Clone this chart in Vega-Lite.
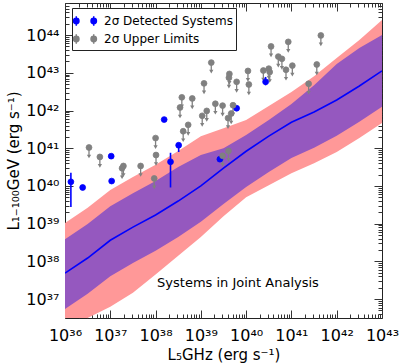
{
  "$schema": "https://vega.github.io/schema/vega-lite/v6.json",
  "width": 317,
  "height": 315,
  "autosize": "none",
  "padding": {"left": 65, "top": 3, "right": 21, "bottom": 46},
  "config": {
    "font": "DejaVu Sans",
    "view": {"stroke": "#222", "strokeWidth": 1}
  },
  "datasets": {
    "band": [
      {"x": 36, "line": 37.69, "pu_lo": 36.74, "pu_hi": 38.59, "pk_lo": 35.93, "pk_hi": 39.02},
      {"x": 36.5, "line": 38.09, "pu_lo": 37.14, "pu_hi": 38.99, "pk_lo": 36.5, "pk_hi": 39.42},
      {"x": 37, "line": 38.56, "pu_lo": 37.61, "pu_hi": 39.46, "pk_lo": 36.8, "pk_hi": 39.89},
      {"x": 37.5, "line": 38.91, "pu_lo": 37.96, "pu_hi": 39.81, "pk_lo": 37.17, "pk_hi": 40.24},
      {"x": 38, "line": 39.23, "pu_lo": 38.28, "pu_hi": 40.13, "pk_lo": 37.65, "pk_hi": 40.56},
      {"x": 38.5, "line": 39.6, "pu_lo": 38.65, "pu_hi": 40.5, "pk_lo": 38.15, "pk_hi": 40.93},
      {"x": 39, "line": 40.0, "pu_lo": 39.05, "pu_hi": 40.82, "pk_lo": 38.65, "pk_hi": 41.32},
      {"x": 39.5, "line": 40.47, "pu_lo": 39.52, "pu_hi": 41.0, "pk_lo": 39.2, "pk_hi": 41.53},
      {"x": 40, "line": 40.92, "pu_lo": 39.97, "pu_hi": 41.35, "pk_lo": 39.7, "pk_hi": 41.75},
      {"x": 40.5, "line": 41.32, "pu_lo": 40.37, "pu_hi": 41.75, "pk_lo": 40.02, "pk_hi": 42.12},
      {"x": 41, "line": 41.69, "pu_lo": 40.74, "pu_hi": 42.17, "pk_lo": 40.34, "pk_hi": 42.49},
      {"x": 41.5, "line": 41.96, "pu_lo": 41.01, "pu_hi": 42.67, "pk_lo": 40.6, "pk_hi": 42.91},
      {"x": 42, "line": 42.28, "pu_lo": 41.33, "pu_hi": 43.23, "pk_lo": 40.9, "pk_hi": 43.39},
      {"x": 42.5, "line": 42.65, "pu_lo": 41.7, "pu_hi": 43.66, "pk_lo": 41.27, "pk_hi": 43.87},
      {"x": 43, "line": 43.05, "pu_lo": 42.1, "pu_hi": 44.0, "pk_lo": 41.67, "pk_hi": 44.4}
    ],
    "pts": [
      {"x": 36.13, "y": 40.11, "ylo": 39.44, "yhi": 40.35, "type": "2σ Detected Systems"},
      {"x": 36.39, "y": 39.96, "type": "2σ Detected Systems"},
      {"x": 37.02, "y": 40.79, "type": "2σ Detected Systems"},
      {"x": 37.03, "y": 40.13, "type": "2σ Detected Systems"},
      {"x": 38.19, "y": 41.76, "type": "2σ Detected Systems"},
      {"x": 38.33, "y": 40.64, "ylo": 39.96, "yhi": 40.88, "type": "2σ Detected Systems"},
      {"x": 38.51, "y": 41.08, "ylo": 40.9, "yhi": 41.11, "type": "2σ Detected Systems"},
      {"x": 39.42, "y": 40.71, "type": "2σ Detected Systems"},
      {"x": 39.79, "y": 42.06, "type": "2σ Detected Systems"},
      {"x": 40.43, "y": 42.76, "ylo": 42.67, "yhi": 42.89, "type": "2σ Detected Systems"},
      {"x": 36.53, "y": 41.02, "type": "2σ Upper Limits"},
      {"x": 36.77, "y": 40.77, "type": "2σ Upper Limits"},
      {"x": 37.29, "y": 40.53, "type": "2σ Upper Limits"},
      {"x": 37.26, "y": 40.47, "type": "2σ Upper Limits"},
      {"x": 37.67, "y": 40.53, "type": "2σ Upper Limits"},
      {"x": 38.0, "y": 41.27, "type": "2σ Upper Limits"},
      {"x": 38.01, "y": 40.82, "type": "2σ Upper Limits"},
      {"x": 37.97, "y": 40.2, "type": "2σ Upper Limits"},
      {"x": 38.54, "y": 42.08, "type": "2σ Upper Limits"},
      {"x": 38.58, "y": 42.35, "type": "2σ Upper Limits"},
      {"x": 38.81, "y": 42.32, "type": "2σ Upper Limits"},
      {"x": 38.61, "y": 41.45, "type": "2σ Upper Limits"},
      {"x": 38.72, "y": 41.62, "type": "2σ Upper Limits"},
      {"x": 39.03, "y": 41.86, "type": "2σ Upper Limits"},
      {"x": 39.13, "y": 41.99, "type": "2σ Upper Limits"},
      {"x": 39.07, "y": 42.72, "type": "2σ Upper Limits"},
      {"x": 39.23, "y": 43.27, "type": "2σ Upper Limits"},
      {"x": 39.32, "y": 42.18, "type": "2σ Upper Limits"},
      {"x": 39.48, "y": 42.13, "type": "2σ Upper Limits"},
      {"x": 39.71, "y": 42.14, "type": "2σ Upper Limits"},
      {"x": 39.67, "y": 41.92, "type": "2σ Upper Limits"},
      {"x": 39.6, "y": 41.8, "type": "2σ Upper Limits"},
      {"x": 39.63, "y": 42.97, "type": "2σ Upper Limits"},
      {"x": 39.62, "y": 42.87, "type": "2σ Upper Limits"},
      {"x": 39.79, "y": 42.76, "type": "2σ Upper Limits"},
      {"x": 40.04, "y": 43.05, "type": "2σ Upper Limits"},
      {"x": 40.06, "y": 42.69, "type": "2σ Upper Limits"},
      {"x": 40.38, "y": 43.06, "type": "2σ Upper Limits"},
      {"x": 40.5, "y": 43.11, "type": "2σ Upper Limits"},
      {"x": 40.52, "y": 43.02, "type": "2σ Upper Limits"},
      {"x": 40.55, "y": 43.7, "type": "2σ Upper Limits"},
      {"x": 40.71, "y": 43.43, "type": "2σ Upper Limits"},
      {"x": 40.79, "y": 43.37, "type": "2σ Upper Limits"},
      {"x": 40.88, "y": 43.08, "type": "2σ Upper Limits"},
      {"x": 40.93, "y": 43.82, "type": "2σ Upper Limits"},
      {"x": 41.02, "y": 43.19, "type": "2σ Upper Limits"},
      {"x": 41.38, "y": 42.71, "type": "2σ Upper Limits"},
      {"x": 41.56, "y": 43.22, "type": "2σ Upper Limits"},
      {"x": 41.65, "y": 43.99, "type": "2σ Upper Limits"},
      {"x": 39.48, "y": 40.8, "type": "2σ Upper Limits"},
      {"x": 39.61, "y": 40.93, "type": "2σ Upper Limits"}
    ],
    "note": [{"x": 39.82, "y": 37.42, "text": "Systems in Joint Analysis"}]
  },
  "resolve": {"axis": {"x": "independent", "y": "independent"}},
  "layer": [
    {
      "data": {"name": "band"},
      "mark": {"type": "area", "color": "#ff9898", "clip": true, "opacity": 1},
      "encoding": {
        "x": {"field": "x", "type": "quantitative",
          "scale": {"domain": [36, 43], "nice": false, "zero": false},
          "axis": {
            "title": "L₅GHz (erg s⁻¹)",
            "values": [36,36.301,36.477,36.602,36.699,36.778,36.845,36.903,36.954,37,37.301,37.477,37.602,37.699,37.778,37.845,37.903,37.954,38,38.301,38.477,38.602,38.699,38.778,38.845,38.903,38.954,39,39.301,39.477,39.602,39.699,39.778,39.845,39.903,39.954,40,40.301,40.477,40.602,40.699,40.778,40.845,40.903,40.954,41,41.301,41.477,41.602,41.699,41.778,41.845,41.903,41.954,42,42.301,42.477,42.602,42.699,42.778,42.845,42.903,42.954,43],
            "labelExpr": "datum.value % 1 === 0 ? '10' + ['⁰','¹','²','³','⁴','⁵','⁶','⁷','⁸','⁹'][floor(datum.value / 10) % 10] + ['⁰','¹','²','³','⁴','⁵','⁶','⁷','⁸','⁹'][datum.value % 10] : ''",
            "tickSize": {"condition": {"test": "datum.value % 1 === 0", "value": -8}, "value": -4},
            "tickColor": "#333",
            "domain": false, "grid": false,
            "labelFontSize": 16, "labelColor": "#000", "labelPadding": 17,
            "labelOverlap": false, "labelFlush": false,
            "titleFontSize": 15, "titleFontWeight": "normal", "titleColor": "#000", "titlePadding": 0
          }},
        "y": {"field": "pk_lo", "type": "quantitative",
          "scale": {"domain": [36.5, 44.85], "nice": false, "zero": false},
          "axis": {
            "title": "L₁₋₁₀₀GeV (erg s⁻¹)",
            "values": [36.602,36.699,36.778,36.845,36.903,36.954,37,37.301,37.477,37.602,37.699,37.778,37.845,37.903,37.954,38,38.301,38.477,38.602,38.699,38.778,38.845,38.903,38.954,39,39.301,39.477,39.602,39.699,39.778,39.845,39.903,39.954,40,40.301,40.477,40.602,40.699,40.778,40.845,40.903,40.954,41,41.301,41.477,41.602,41.699,41.778,41.845,41.903,41.954,42,42.301,42.477,42.602,42.699,42.778,42.845,42.903,42.954,43,43.301,43.477,43.602,43.699,43.778,43.845,43.903,43.954,44,44.301,44.477,44.602,44.699,44.778,44.845],
            "labelExpr": "datum.value % 1 === 0 ? '10' + ['⁰','¹','²','³','⁴','⁵','⁶','⁷','⁸','⁹'][floor(datum.value / 10) % 10] + ['⁰','¹','²','³','⁴','⁵','⁶','⁷','⁸','⁹'][datum.value % 10] : ''",
            "tickSize": {"condition": {"test": "datum.value % 1 === 0", "value": -8}, "value": -4},
            "tickColor": "#333",
            "domain": false, "grid": false,
            "labelFontSize": 16, "labelColor": "#000", "labelPadding": 14,
            "labelOverlap": false, "labelFlush": false,
            "titleFontSize": 15, "titleFontWeight": "normal", "titleColor": "#000", "titlePadding": 4
          }},
        "y2": {"field": "pk_hi"}
      }
    },
    {
      "data": {"name": "band"},
      "mark": {"type": "area", "color": "#9558bf", "clip": true, "opacity": 1},
      "encoding": {
        "x": {"field": "x", "type": "quantitative", "axis": null},
        "y": {"field": "pu_lo", "type": "quantitative", "axis": null},
        "y2": {"field": "pu_hi"}
      }
    },
    {
      "data": {"name": "band"},
      "mark": {"type": "line", "color": "#0000ff", "strokeWidth": 1.6, "clip": true},
      "encoding": {
        "x": {"field": "x", "type": "quantitative",
          "axis": {"orient": "top", "labels": false, "title": null, "domain": false, "grid": false,
            "values": [36,36.301,36.477,36.602,36.699,36.778,36.845,36.903,36.954,37,37.301,37.477,37.602,37.699,37.778,37.845,37.903,37.954,38,38.301,38.477,38.602,38.699,38.778,38.845,38.903,38.954,39,39.301,39.477,39.602,39.699,39.778,39.845,39.903,39.954,40,40.301,40.477,40.602,40.699,40.778,40.845,40.903,40.954,41,41.301,41.477,41.602,41.699,41.778,41.845,41.903,41.954,42,42.301,42.477,42.602,42.699,42.778,42.845,42.903,42.954,43],
            "tickSize": {"condition": {"test": "datum.value % 1 === 0", "value": -8}, "value": -4},
            "tickColor": "#333"}},
        "y": {"field": "line", "type": "quantitative",
          "axis": {"orient": "right", "labels": false, "title": null, "domain": false, "grid": false,
            "values": [36.602,36.699,36.778,36.845,36.903,36.954,37,37.301,37.477,37.602,37.699,37.778,37.845,37.903,37.954,38,38.301,38.477,38.602,38.699,38.778,38.845,38.903,38.954,39,39.301,39.477,39.602,39.699,39.778,39.845,39.903,39.954,40,40.301,40.477,40.602,40.699,40.778,40.845,40.903,40.954,41,41.301,41.477,41.602,41.699,41.778,41.845,41.903,41.954,42,42.301,42.477,42.602,42.699,42.778,42.845,42.903,42.954,43,43.301,43.477,43.602,43.699,43.778,43.845,43.903,43.954,44,44.301,44.477,44.602,44.699,44.778,44.845],
            "tickSize": {"condition": {"test": "datum.value % 1 === 0", "value": -8}, "value": -4},
            "tickColor": "#333"}}
      }
    },
    {
      "data": {"name": "pts"},
      "transform": [{"filter": "datum.type === '2σ Upper Limits'"}],
      "mark": {"type": "rule", "color": "#808080", "strokeWidth": 1.3, "y2Offset": 8},
      "encoding": {
        "x": {"field": "x", "type": "quantitative", "axis": null},
        "y": {"field": "y", "type": "quantitative", "axis": null},
        "y2": {"field": "y"}
      }
    },
    {
      "data": {"name": "pts"},
      "transform": [{"filter": "datum.type === '2σ Upper Limits'"}],
      "mark": {"type": "point", "shape": "triangle-down", "filled": true, "color": "#808080", "size": 18, "yOffset": 9, "opacity": 1},
      "encoding": {
        "x": {"field": "x", "type": "quantitative", "axis": null},
        "y": {"field": "y", "type": "quantitative", "axis": null}
      }
    },
    {
      "data": {"name": "pts"},
      "transform": [{"filter": "isValid(datum.ylo)"}],
      "mark": {"type": "rule", "color": "#0000ff", "strokeWidth": 1.6},
      "encoding": {
        "x": {"field": "x", "type": "quantitative", "axis": null},
        "y": {"field": "ylo", "type": "quantitative", "axis": null},
        "y2": {"field": "yhi"}
      }
    },
    {
      "data": {"name": "pts"},
      "mark": {"type": "point", "filled": true, "size": 34, "opacity": 1, "strokeWidth": 0.8},
      "encoding": {
        "x": {"field": "x", "type": "quantitative", "axis": null},
        "y": {"field": "y", "type": "quantitative", "axis": null},
        "fill": {"field": "type", "type": "nominal",
          "scale": {"domain": ["2σ Detected Systems", "2σ Upper Limits"], "range": ["#0000ff", "#808080"]},
          "legend": {
            "title": null, "orient": "none", "legendX": 7, "legendY": 5,
            "strokeColor": "#222", "fillColor": "#fff", "padding": 3, "cornerRadius": 0,
            "labelFontSize": 12, "labelColor": "#000", "labelOffset": 9, "rowPadding": 0,
            "symbolSize": 324, "symbolStrokeWidth": 1.5,
            "symbolType": "M-1.27,0 A0.3,0.3 0 1,1 -0.67,0 A0.3,0.3 0 1,1 -1.27,0 Z M0.67,0 A0.3,0.3 0 1,1 1.27,0 A0.3,0.3 0 1,1 0.67,0 Z M-0.97,-0.53 L-0.97,0.53 M0.97,-0.53 L0.97,0.53"
          }},
        "stroke": {"field": "type", "type": "nominal",
          "scale": {"domain": ["2σ Detected Systems", "2σ Upper Limits"], "range": ["#0000ff", "#808080"]}}
      }
    },
    {
      "data": {"name": "note"},
      "mark": {"type": "text", "fontSize": 13, "color": "#000", "align": "center", "baseline": "middle"},
      "encoding": {
        "x": {"field": "x", "type": "quantitative", "axis": null},
        "y": {"field": "y", "type": "quantitative", "axis": null},
        "text": {"field": "text"}
      }
    }
  ]
}
